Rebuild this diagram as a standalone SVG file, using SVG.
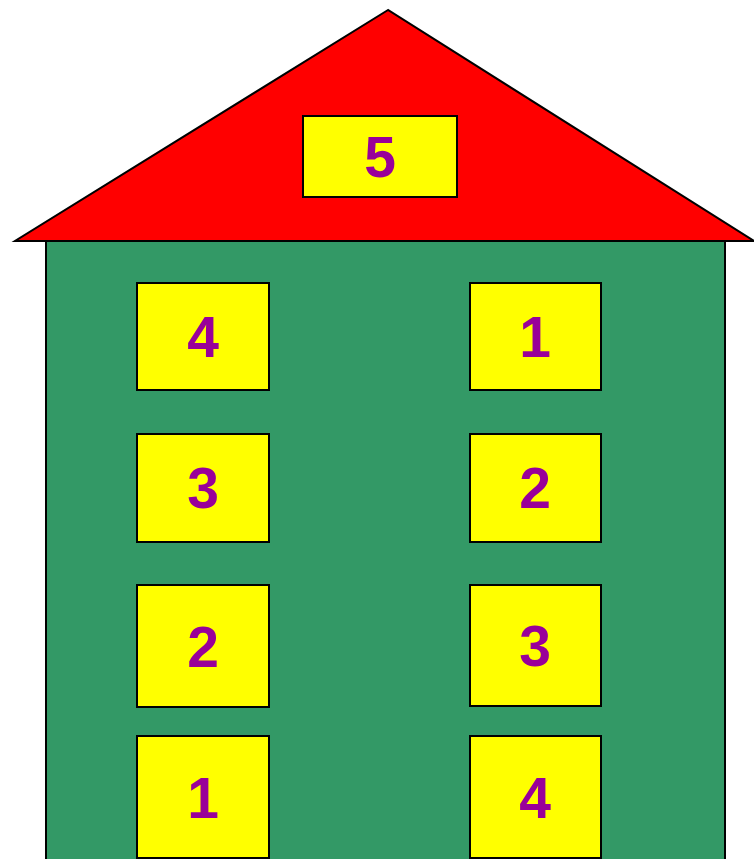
<svg xmlns="http://www.w3.org/2000/svg" width="754" height="859" viewBox="0 0 754 859">
<style>
.win{fill:#ffff00;stroke:#000;stroke-width:2}
.lbl{font-family:"Liberation Sans",Arial,sans-serif;font-weight:bold;font-size:57px;fill:#990099;text-anchor:middle;dominant-baseline:central}
</style>
<rect width="754" height="859" fill="#fff"/>
<g id="body"><rect x="46" y="241" width="679" height="630" fill="#339966" stroke="#000" stroke-width="2"/></g>
<g id="roof"><polygon points="388,10 15,241 754,241" fill="#ff0000" stroke="#000" stroke-width="2" stroke-linejoin="miter"/></g>
<g id="w5"><rect class="win" x="303" y="116" width="154" height="81"/><text class="lbl" x="380" y="157">5</text></g>
<g id="wL4"><rect class="win" x="137" y="283" width="132" height="107"/><text class="lbl" x="203" y="337">4</text></g>
<g id="wL3"><rect class="win" x="137" y="434" width="132" height="108"/><text class="lbl" x="203" y="488">3</text></g>
<g id="wL2"><rect class="win" x="137" y="585" width="132" height="122"/><text class="lbl" x="203" y="647">2</text></g>
<g id="wL1"><rect class="win" x="137" y="736" width="132" height="122"/><text class="lbl" x="203" y="798">1</text></g>
<g id="wR1"><rect class="win" x="470" y="283" width="131" height="107"/><text class="lbl" x="535" y="337">1</text></g>
<g id="wR2"><rect class="win" x="470" y="434" width="131" height="108"/><text class="lbl" x="535" y="488">2</text></g>
<g id="wR3"><rect class="win" x="470" y="585" width="131" height="121"/><text class="lbl" x="535" y="646">3</text></g>
<g id="wR4"><rect class="win" x="470" y="736" width="131" height="122"/><text class="lbl" x="535" y="798">4</text></g>
<g id="connectors"></g>
</svg>
